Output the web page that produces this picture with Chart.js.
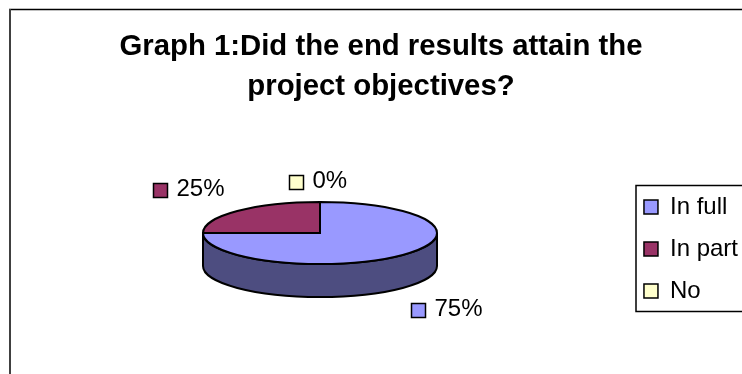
<!DOCTYPE html>
<html>
<head>
<meta charset="utf-8">
<style>
    html, body { margin: 0; padding: 0; background: #fff; overflow: hidden; }
    canvas { display: block; }
</style>
<script src="https://cdn.jsdelivr.net/npm/chart.js@4"></script>
</head>
<body>
<canvas id="myChart" width="742" height="374"></canvas>
<script>
const titleLines = ['Graph 1:Did the end results attain the', 'project objectives?'];
const categories = ['In full', 'In part', 'No'];
const seriesValues = [75, 25, 0];
const sliceColors = ['#9999FF', '#993366', '#FFFFCC'];
const sideColors = ['#4D4D80', '#4D1A33', '#808066'];

const FONT = '"Liberation Sans", Arial, sans-serif';

// the 3D look: arcs get squashed into an ellipse and a band is put under them
const pie = { x: 320, y: 233, rx: 117, ry: 31, depth: 33 };
// where each value label starts (swatch left edge, swatch middle)
const labelAnchors = [[411.5, 310.5], [153.5, 190.5], [289.5, 182.5]];

function eachSlice(chart, fn) {
    chart.getDatasetMeta(0).data.forEach((arc, i) => {
        if (seriesValues[i] > 0) fn(arc.getProps(['startAngle', 'endAngle'], true), i);
    });
}

const pie3d = {
    id: 'pie3d',
    beforeDatasetsDraw(chart) {
        const ctx = chart.ctx;
        ctx.save();
        ctx.lineWidth = 2;
        ctx.strokeStyle = '#000';
        eachSlice(chart, (arc, i) => {
            // only the front half of the rim can be seen
            const a = Math.max(arc.startAngle, 0);
            const b = Math.min(arc.endAngle, Math.PI);
            if (b <= a) return;
            ctx.beginPath();
            ctx.ellipse(pie.x, pie.y, pie.rx, pie.ry, 0, a, b);
            ctx.ellipse(pie.x, pie.y + pie.depth, pie.rx, pie.ry, 0, b, a, true);
            ctx.closePath();
            ctx.fillStyle = sideColors[i];
            ctx.fill();
            ctx.stroke();
        });
        ctx.restore();

        const first = chart.getDatasetMeta(0).data[0];
        ctx.save();
        ctx.translate(pie.x, pie.y);
        ctx.scale(pie.rx / first.outerRadius, pie.ry / first.outerRadius);
        ctx.translate(-first.x, -first.y);
    },
    afterDatasetsDraw(chart) {
        const ctx = chart.ctx;
        ctx.restore();
        ctx.save();
        ctx.lineWidth = 2;
        ctx.strokeStyle = '#000';
        eachSlice(chart, (arc) => {
            ctx.beginPath();
            ctx.moveTo(pie.x, pie.y);
            ctx.ellipse(pie.x, pie.y, pie.rx, pie.ry, 0, arc.startAngle, arc.endAngle);
            ctx.closePath();
            ctx.stroke();
        });
        ctx.restore();
    },
    afterDraw(chart) {
        const ctx = chart.ctx;
        ctx.save();

        // value labels with their little swatches
        ctx.font = '24px ' + FONT;
        ctx.textBaseline = 'middle';
        seriesValues.forEach((v, i) => {
            const [x, y] = labelAnchors[i];
            ctx.fillStyle = sliceColors[i];
            ctx.strokeStyle = '#000';
            ctx.lineWidth = 1.5;
            ctx.fillRect(x, y - 7, 14, 14);
            ctx.strokeRect(x, y - 7, 14, 14);
            ctx.fillStyle = '#000';
            ctx.fillText(v + '%', x + 23, y - 1);
        });

        // legend frame, runs off the right side like the original
        ctx.strokeStyle = '#000';
        ctx.lineWidth = 1.5;
        ctx.strokeRect(636, 185.5, 120, 126);

        // outer chart frame, only left and top fall inside the picture
        ctx.strokeStyle = '#000';
        ctx.lineWidth = 1.5;
        ctx.beginPath();
        ctx.moveTo(9, 9.5);
        ctx.lineTo(742, 9.5);
        ctx.stroke();
        ctx.strokeStyle = '#404040';
        ctx.lineWidth = 2;
        ctx.beginPath();
        ctx.moveTo(10, 9);
        ctx.lineTo(10, 374);
        ctx.stroke();
        ctx.restore();
    }
};

new Chart(document.getElementById('myChart').getContext('2d'), {
    type: 'pie',
    data: {
        labels: categories,
        datasets: [{
            data: seriesValues,
            backgroundColor: sliceColors,
            borderWidth: 0,
            clip: false,
        }],
    },
    plugins: [pie3d],
    options: {
        responsive: false,
        animation: false,
        layout: { padding: { left: 14, right: -6 } },
        plugins: {
            tooltip: { enabled: false },
            title: {
                display: true,
                text: titleLines,
                color: '#000',
                font: { family: FONT, size: 29.33, weight: 'bold', lineHeight: 1.364 },
                padding: { top: 27, bottom: 17 },
            },
            legend: {
                display: true,
                position: 'right',
                fullSize: false,
                labels: {
                    color: '#000',
                    font: { family: FONT, size: 24 },
                    boxWidth: 14,
                    boxHeight: 14,
                    padding: 18,
                    generateLabels(chart) {
                        return categories.map((name, i) => ({
                            text: name,
                            fillStyle: sliceColors[i],
                            strokeStyle: '#000',
                            lineWidth: 1.5,
                            index: i,
                        }));
                    },
                },
            },
        },
    },
});
</script>
</body>
</html>
